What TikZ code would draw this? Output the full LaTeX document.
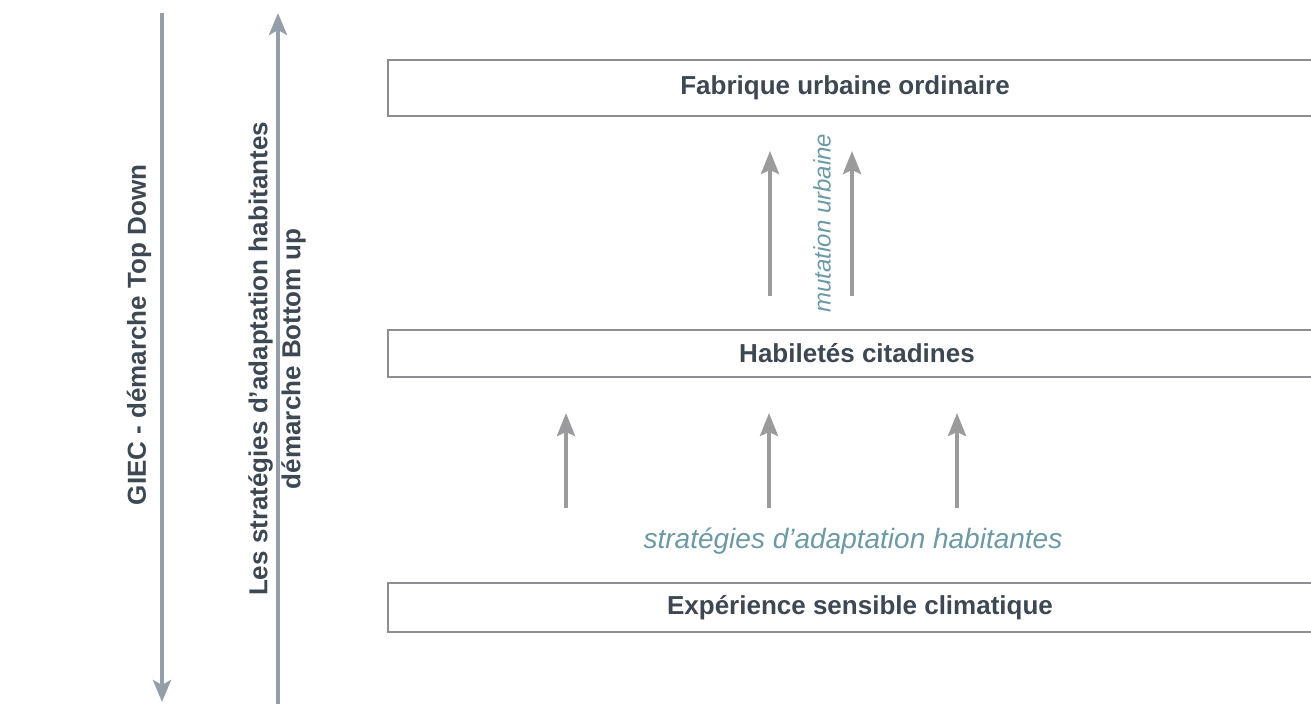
\documentclass[tikz,border=0pt]{standalone}
\usepackage{fontspec}
\setmainfont{Liberation Sans}
\usepackage{tikz}
\usetikzlibrary{arrows.meta, positioning, calc}

\definecolor{inkdark}{RGB}{61,72,83}
\definecolor{tealtext}{RGB}{107,154,166}
\definecolor{sidegray}{RGB}{147,158,168}
\definecolor{midgray}{RGB}{155,155,158}
\definecolor{bordergray}{RGB}{141,141,146}

\tikzset{
  band/.style={draw=bordergray, line width=1pt, fill=white, minimum height=#1, minimum width=470pt, anchor=west, inner sep=0pt},
  bandlabel/.style={text=inkdark, font=\fontsize{13}{15.6}\selectfont\bfseries, inner sep=0pt},
  sidelabel/.style={text=inkdark, font=\fontsize{13}{16.5}\selectfont\bfseries, rotate=90, align=center, inner sep=0pt},
  flowlabel/.style={text=tealtext, font=\fontsize{#1}{#1}\selectfont\itshape, inner sep=0pt},
  sidearrow/.style={draw=sidegray, line width=2pt, -{Stealth[length=11pt, width=9pt, inset=2.5pt]}},
  uparrow/.style={draw=midgray, line width=2pt, -{Stealth[length=11.5pt, width=9pt, inset=2pt]}}
}

\begin{document}
\begin{tikzpicture}[x=0.5pt, y=-0.5pt]
  \useasboundingbox (0,0) rectangle (1311,704);

  % the three levels
  \node[band=28pt] (fab) at (387,88) {};
  \node[band=23.5pt] (hab) at (387,353.5) {};
  \node[band=24.5pt] (exp) at (387,607.5) {};
  \node[bandlabel] (fabt) at (845,88) {Fabrique urbaine ordinaire};
  \node[bandlabel] (habt) at (857,353.5) {Habiletés citadines};
  \node[bandlabel] (expt) at (860,607.5) {Expérience sensible climatique};

  % side arrows
  \coordinate (topdown1) at (162,13);
  \coordinate (topdown2) at (162,702);
  \coordinate (botup1) at (278,706);
  \coordinate (botup2) at (278,13);
  \draw[sidearrow] (topdown1) -- (topdown2);
  \draw[sidearrow] (botup1) -- (botup2);
  \node[sidelabel] (giec) at (139,335) {GIEC - démarche Top Down};
  \node[sidelabel] (habit) at (277,359) {Les stratégies d’adaptation habitantes\\démarche Bottom up};

  % from experience to skills
  \foreach \x [count=\i] in {566,769,957} {
    \coordinate (lo\i) at (\x,508);
    \coordinate (hi\i) at (\x,413);
    \draw[uparrow] (lo\i) -- (hi\i);
  }
  \node[flowlabel=14] (strat) at (853,541) {stratégies d’adaptation habitantes};

  % from skills to urban fabric
  \foreach \x [count=\i] in {770,852} {
    \coordinate (mlo\i) at (\x,296);
    \coordinate (mhi\i) at (\x,151);
    \draw[uparrow] (mlo\i) -- (mhi\i);
  }
  \node[flowlabel=12, rotate=90] (mut) at (822,223) {mutation urbaine};
\end{tikzpicture}
\end{document}
